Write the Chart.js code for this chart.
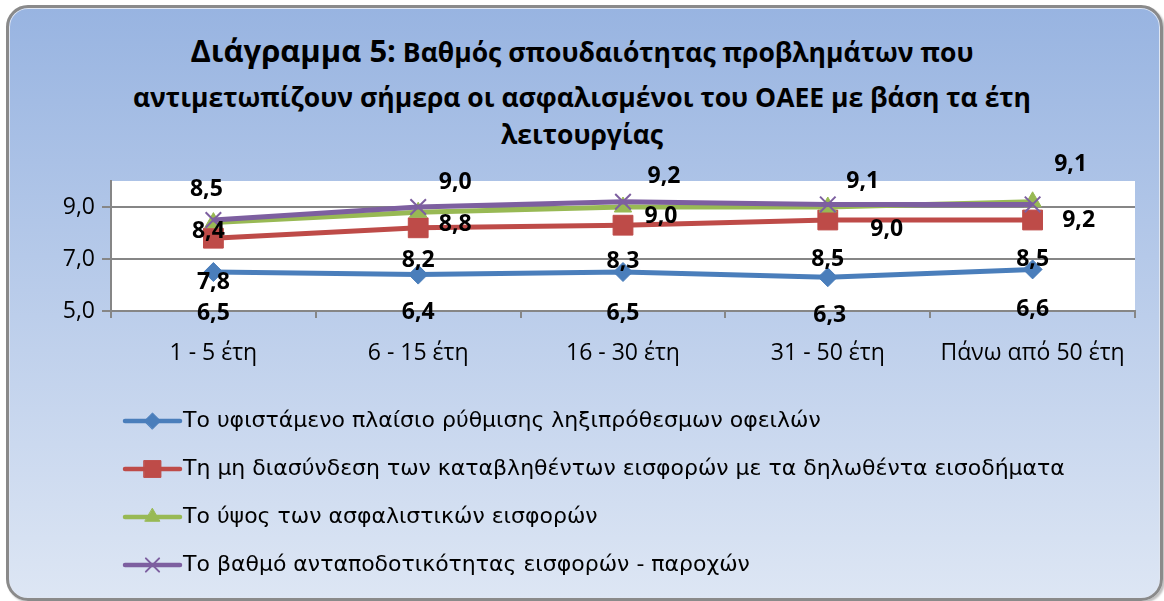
<!DOCTYPE html>
<html>
<head>
<meta charset="utf-8">
<script src="https://cdn.jsdelivr.net/npm/chart.js@4.4.0/dist/chart.umd.min.js"></script>
<style>
  html, body { margin: 0; padding: 0; background: #fff; }
  #frame {
    position: absolute; left: 6px; top: 5px; width: 1151px; height: 590px;
    border: 3px solid #8a8a8a; border-radius: 22px;
    box-shadow: inset 0 0 0 1px #dfe6f2, 2px 2px 2px rgba(0,0,0,0.25);
    background: linear-gradient(#98b4e1, #dde6f4);
  }
  #title {
    position: absolute; left: 0; top: 27px; width: 1164px; text-align: center;
    font-family: 'Open Sans', sans-serif; font-weight: bold; color: #000;
  }
  #title div { white-space: nowrap; }
  #title .l1 { font-size: 26.5px; line-height: 46px; }
  #title .l2 { font-size: 26.5px; line-height: 44px; }
  #title .l3 { font-size: 26.5px; line-height: 30px; }
  #title .big { font-size: 31px; }
  canvas { position: absolute; left: 0; top: 0; }
</style>
</head>
<body>
<div id="frame"></div>
<div id="title">
  <div class="l1"><span class="big">Διάγραμμα 5:</span> Βαθμός σπουδαιότητας προβλημάτων που</div>
  <div class="l2">αντιμετωπίζουν σήμερα οι ασφαλισμένοι του ΟΑΕΕ με βάση τα έτη</div>
  <div class="l3">λειτουργίας</div>
</div>
<canvas id="myChart" width="1164" height="601"></canvas>
<script>
'use strict';
const categories = ['1 - 5 έτη', '6 - 15 έτη', '16 - 30 έτη', '31 - 50 έτη', 'Πάνω από 50 έτη'];
const seriesNames = [
  'Το υφιστάμενο πλαίσιο ρύθμισης ληξιπρόθεσμων οφειλών',
  'Τη μη διασύνδεση των καταβληθέντων εισφορών με τα δηλωθέντα εισοδήματα',
  'Το ύψος των ασφαλιστικών εισφορών',
  'Το βαθμό ανταποδοτικότητας εισφορών - παροχών'
];
const arrears = [6.5, 6.4, 6.5, 6.3, 6.6];
const noLink = [7.8, 8.2, 8.3, 8.5, 8.5];
const contribLevel = [8.4, 8.8, 9.0, 9.0, 9.2];
const reciprocity = [8.5, 9.0, 9.2, 9.1, 9.1];
const yTicks = [5, 7, 9];

const fmt = v => v.toFixed(1).replace('.', ',');
const axisFont = { family: '"Open Sans", sans-serif', size: 23 };

// white plot area like excel
const plotBg = {
  id: 'plotBg',
  beforeDraw(chart) {
    const a = chart.chartArea;
    const ctx = chart.ctx;
    ctx.save();
    ctx.fillStyle = '#ffffff';
    ctx.fillRect(a.left, a.top, a.right - a.left, a.bottom - a.top);
    ctx.restore();
  }
};

// data labels, the labels in the original were dragged by hand so each point has its own nudge
const valueLabels = {
  id: 'valueLabels',
  afterDatasetsDraw(chart) {
    const ctx = chart.ctx;
    ctx.save();
    ctx.font = 'bold 23px "Open Sans", sans-serif';
    ctx.fillStyle = '#000';
    ctx.textAlign = 'center';
    ctx.textBaseline = 'middle';
    chart.data.datasets.forEach((ds, i) => {
      const meta = chart.getDatasetMeta(i);
      meta.data.forEach((pt, j) => {
        ctx.fillText(fmt(ds.data[j]), pt.x + ds.labelDx[j], pt.y + ds.labelDy[j]);
      });
    });
    ctx.restore();
  }
};

// legend: one row per series, line with marker in the middle
const excelLegend = {
  id: 'excelLegend',
  afterDraw(chart) {
    const ctx = chart.ctx;
    const x0 = 125, x1 = 180, yStart = 421, gap = 48;
    ctx.save();
    chart.data.datasets.forEach((ds, i) => {
      const y = yStart + i * gap;
      ctx.strokeStyle = ds.borderColor;
      ctx.lineWidth = 4.5;
      ctx.lineCap = 'round';
      ctx.beginPath();
      ctx.moveTo(x0, y);
      ctx.lineTo(x1, y);
      ctx.stroke();
      ctx.fillStyle = ds.pointBackgroundColor;
      ctx.strokeStyle = ds.pointBorderColor;
      ctx.lineWidth = ds.pointStyle === 'crossRot' ? 2 : 1;
      Chart.helpers.drawPoint(ctx, {
        pointStyle: ds.pointStyle, radius: ds.pointRadius * 0.85, rotation: 0, borderWidth: ctx.lineWidth
      }, (x0 + x1) / 2, y);
      ctx.font = '22px "DejaVu Sans", sans-serif';
      ctx.fillStyle = '#000';
      ctx.textAlign = 'left';
      ctx.textBaseline = 'middle';
      ctx.fillText(ds.label, x1 + 3, y);
    });
    ctx.restore();
  }
};

function makeSet(label, data, color, style, radius, dx, dy, order) {
  return {
    label: label,
    data: data,
    borderColor: color,
    backgroundColor: color,
    pointBackgroundColor: color,
    pointBorderColor: color,
    borderWidth: 5,
    pointStyle: style,
    pointRadius: radius,
    pointBorderWidth: style === 'crossRot' ? 2 : 1,
    tension: 0,
    order: order,
    labelDx: dx,
    labelDy: dy
  };
}

const ctx = document.getElementById('myChart').getContext('2d');
const chart = new Chart(ctx, {
  type: 'line',
  data: {
    labels: categories,
    datasets: [
      makeSet(seriesNames[0], arrears, '#4a7ebb', 'rectRot', 9.5, [0, 0, 0, 2, 0], [41, 38, 41, 38, 40], 3),
      makeSet(seriesNames[1], noLink, '#be4b48', 'rect', 14, [0, 0, 0, 0, 0], [44, 33, 36, 39, 39], 2),
      makeSet(seriesNames[2], contribLevel, '#98b954', 'triangle', 10, [-5, 37, 38, 59, 46], [9, 12, 9, 22, 19], 1),
      makeSet(seriesNames[3], reciprocity, '#7d5fa0', 'crossRot', 11, [-7, 37, 41, 35, 38], [-31, -25, -25, -23, -40], 0)
    ]
  },
  options: {
    responsive: false,
    animation: false,
    layout: { padding: { top: 181, right: 29, bottom: 230, left: 0 } },
    plugins: {
      legend: { display: false },
      title: { display: false },
      tooltip: { enabled: false }
    },
    scales: {
      x: {
        offset: true,
        grid: { offset: true, drawOnChartArea: false, drawTicks: true, tickLength: 7, color: '#868686', lineWidth: 2 },
        border: { display: true, color: '#868686', width: 2 },
        ticks: { color: '#000', padding: 22, font: axisFont },
        afterFit(axis) { axis.height = 60; }
      },
      y: {
        min: 5,
        max: 10,
        afterBuildTicks(axis) { axis.ticks = yTicks.map(v => ({ value: v })); },
        grid: { color: '#868686', lineWidth: 2, drawTicks: true, tickLength: 9 },
        border: { display: true, color: '#868686', width: 2 },
        ticks: { color: '#000', padding: 7, font: axisFont, callback: v => fmt(v) },
        afterFit(axis) { axis.width = 111; }
      }
    }
  },
  plugins: [plotBg, valueLabels, excelLegend]
});
</script>
</body>
</html>
